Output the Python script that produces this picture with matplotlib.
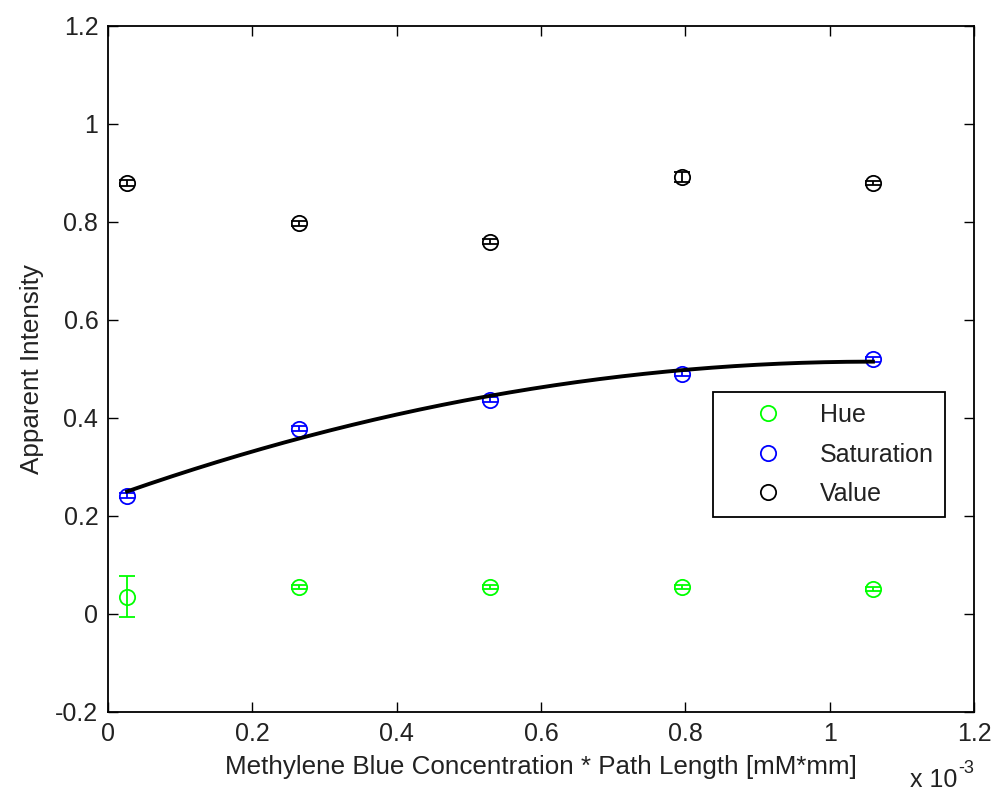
import numpy as np
import matplotlib
matplotlib.use('Agg')
import matplotlib.pyplot as plt
from matplotlib.ticker import FuncFormatter

# data (x in mM*mm)
conc = np.array([0.0265, 0.265, 0.53, 0.795, 1.06]) * 1e-3
hue = [0.035, 0.055, 0.055, 0.055, 0.051]
hue_err = [0.042, 0.004, 0.004, 0.004, 0.004]
sat = [0.241, 0.378, 0.437, 0.490, 0.520]
sat_err = [0.005, 0.005, 0.005, 0.005, 0.005]
val = [0.879, 0.797, 0.760, 0.891, 0.879]
val_err = [0.006, 0.005, 0.005, 0.010, 0.004]

plt.rcParams['font.family'] = ['Liberation Sans', 'DejaVu Sans']

fig = plt.figure(figsize=(9.97, 7.91), dpi=100)
ax = fig.add_axes([0.1083, 0.0999, 0.8686, 0.8673])

# second order fit to saturation
coef = np.polyfit(conc, sat, 2)
xf = np.linspace(conc[0], conc[-1], 200)
ax.plot(xf, np.polyval(coef, xf), color='black', lw=2.8, zorder=3)

style = dict(fmt='o', mfc='none', ms=11, mew=1.3, capsize=5.5, elinewidth=1.3, capthick=1.3)
ax.errorbar(conc, hue, yerr=hue_err, color='#00ff00', label='Hue', **style)
ax.errorbar(conc, sat, yerr=sat_err, color='#0000ff', label='Saturation', **style)
ax.errorbar(conc, val, yerr=val_err, color='black', label='Value', **style)

ax.set_xlim(0, 1.2e-3)
ax.set_ylim(-0.2, 1.2)
ax.set_xticks(np.arange(0, 1.21e-3, 0.2e-3))
ax.set_yticks(np.arange(-0.2, 1.21, 0.2))
ax.xaxis.set_major_formatter(FuncFormatter(lambda v, p: f'{v*1e3:g}'))
ax.yaxis.set_major_formatter(FuncFormatter(lambda v, p: f'{round(v, 1):g}'))
ax.tick_params(direction='in', top=True, right=True, length=7, width=1, labelsize=18, pad=7,
               labelcolor='#222222')
for s in ax.spines.values():
    s.set_linewidth(1.3)

ax.set_xlabel('Methylene Blue Concentration * Path Length [mM*mm]', fontsize=18.7, labelpad=7,
              color='#222222')
ax.set_ylabel('Apparent Intensity', fontsize=18.7, labelpad=8, color='#222222')
fig.text(910 / 997, 1 - 787 / 791, 'x 10', fontsize=18, va='baseline', color='#222222')
fig.text(958 / 997, 1 - 760 / 791, '-3', fontsize=13, va='top', color='#222222')

handles, labels = ax.get_legend_handles_labels()
hs = [h[0] for h in handles]
leg = ax.legend(hs, labels, loc='upper left', bbox_to_anchor=(0.699, 0.4665), borderaxespad=0,
                fontsize=18, fancybox=False, framealpha=1, edgecolor='black', borderpad=0.45,
                handlelength=3.5, handletextpad=0.3, labelspacing=0.62)
leg.get_frame().set_linewidth(1.3)
for t in leg.get_texts():
    t.set_color('#222222')

fig.savefig('out.png', dpi=100)
